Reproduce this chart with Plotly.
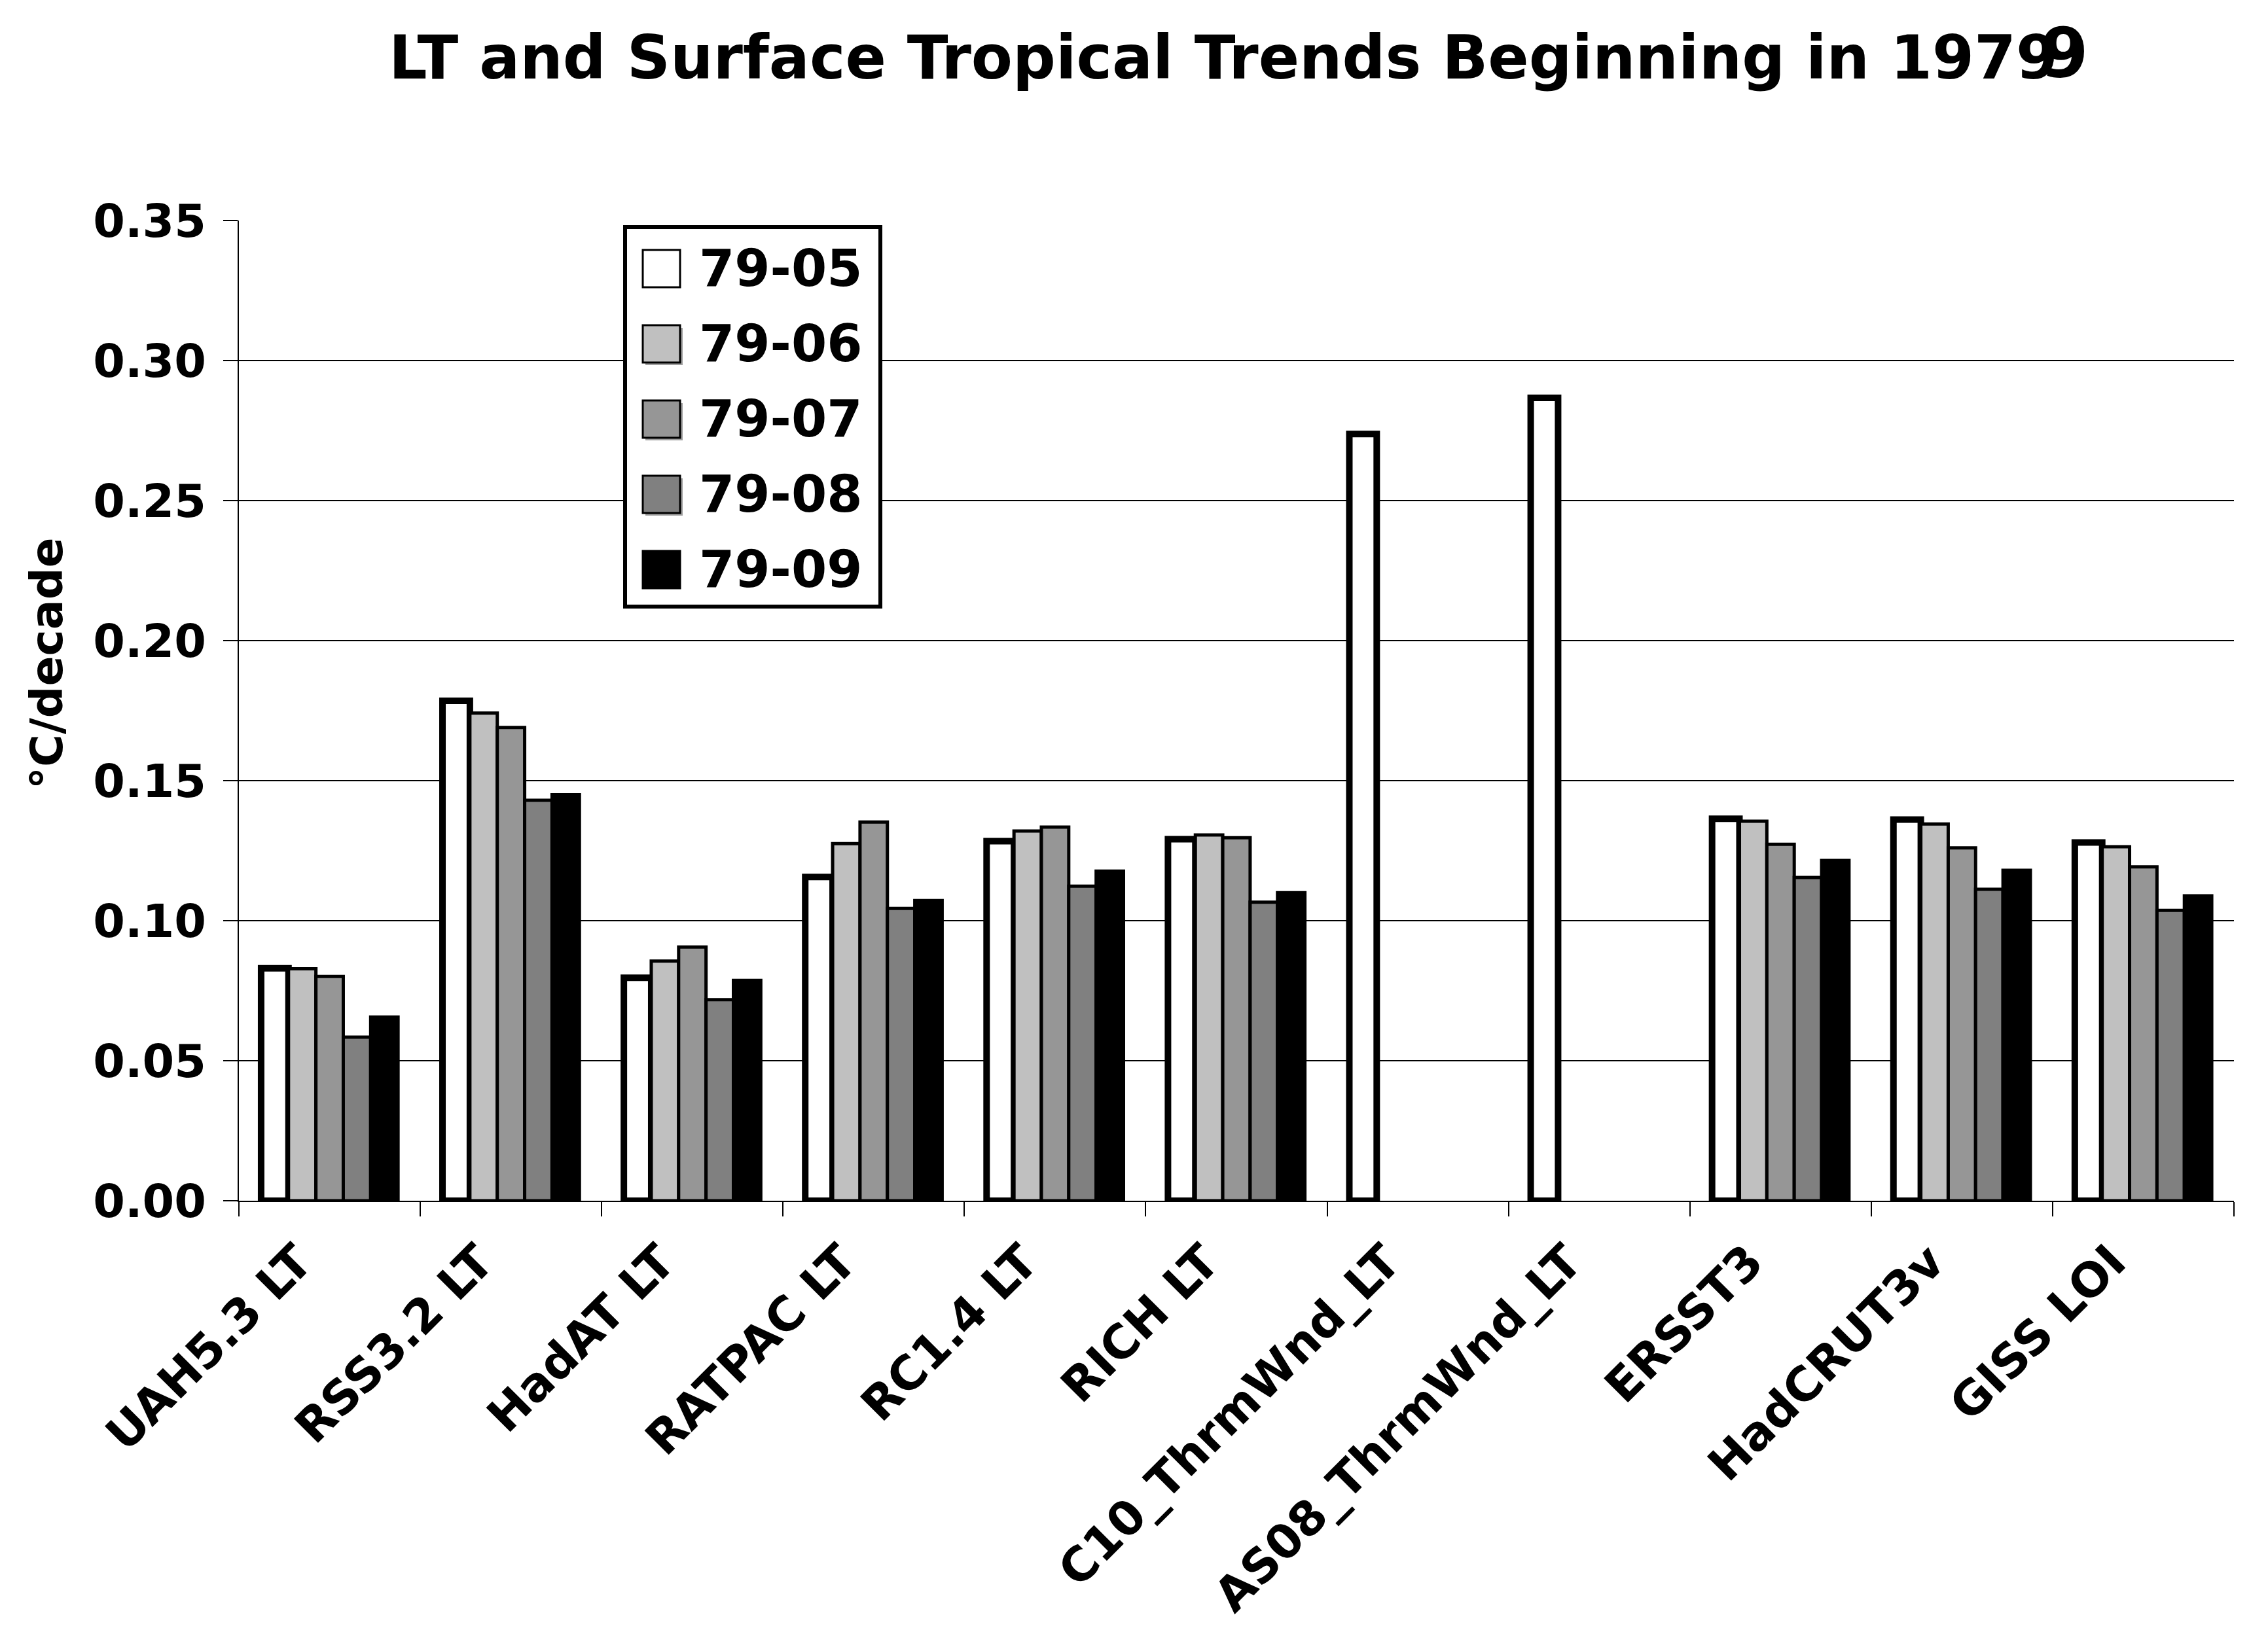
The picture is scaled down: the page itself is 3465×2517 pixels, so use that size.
import plotly.graph_objects as go

# tropical trends, deg C per decade
datasets = ['UAH5.3 LT', 'RSS3.2 LT', 'HadAT LT', 'RATPAC LT', 'RC1.4 LT', 'RICH LT',
            'C10_ThrmWnd_LT', 'AS08_ThrmWnd_LT', 'ERSST3', 'HadCRUT3v', 'GISS LOI']
periods = ['79-05', '79-06', '79-07', '79-08', '79-09']

t_79_05 = [0.083, 0.1785, 0.0796, 0.1156, 0.1284, 0.1291, 0.2738, 0.2867, 0.1364, 0.1361, 0.1279]
t_79_06 = [0.0828, 0.1741, 0.0856, 0.1275, 0.1320, 0.1306, None, None, 0.1355, 0.1345, 0.1264]
t_79_07 = [0.0801, 0.1690, 0.0906, 0.1352, 0.1334, 0.1296, None, None, 0.1273, 0.1260, 0.1192]
t_79_08 = [0.0584, 0.1430, 0.0718, 0.1044, 0.1123, 0.1066, None, None, 0.1154, 0.1112, 0.1037]
t_79_09 = [0.0656, 0.1450, 0.0787, 0.1072, 0.1177, 0.1100, None, None, 0.1215, 0.1180, 0.1089]
series = [t_79_05, t_79_06, t_79_07, t_79_08, t_79_09]

fills = ['#FFFFFF', '#C0C0C0', '#969696', '#808080', '#000000']
edge_w = [10, 5, 5, 5, 5]

W, H = 3465, 2517
L, R, T, B = 365, 52, 337, 682
BOLD = dict(family='DejaVu Sans', color='black', weight='bold')


def px(x, y):
    # pixel position -> paper coords
    return (x - L) / (W - L - R), (H - B - y) / (H - T - B)


fig = go.Figure()
for name, vals, col, lw in zip(periods, series, fills, edge_w):
    fig.add_trace(go.Bar(x=datasets, y=vals, name=name, showlegend=False,
                         marker=dict(color=col, line=dict(color='black', width=lw))))

shapes = []
annotations = []

# legend box drawn by hand so the swatches can be large
x0, y0 = px(955, 347)
x1, y1 = px(1345, 927)
shapes.append(dict(type='rect', xref='paper', yref='paper', x0=x0, y0=y0, x1=x1, y1=y1,
                   fillcolor='white', line=dict(color='black', width=6), layer='above'))
for i, (name, col) in enumerate(zip(periods, fills)):
    cy = 410 + i * 115
    if 0 < i < 4:
        sx0, sy0 = px(986, cy - 24)
        sx1, sy1 = px(1043, cy + 33)
        shapes.append(dict(type='rect', xref='paper', yref='paper', x0=sx0, y0=sy0, x1=sx1, y1=sy1,
                           fillcolor='#A0A0A0', line=dict(width=0), layer='above'))
    sx0, sy0 = px(982, cy - 28)
    sx1, sy1 = px(1039, cy + 29)
    shapes.append(dict(type='rect', xref='paper', yref='paper', x0=sx0, y0=sy0, x1=sx1, y1=sy1,
                       fillcolor=col, line=dict(color='black', width=3), layer='above'))
    tx, ty = px(1066, cy)
    annotations.append(dict(text=name, xref='paper', yref='paper', x=tx, y=ty,
                            xanchor='left', yanchor='middle', showarrow=False,
                            font=dict(BOLD, size=78)))

# title (with the stray oversized 9 of the original)
tx, ty = px(592, 88)
annotations.append(dict(text='LT and Surface Tropical Trends Beginning in 1979', xref='paper', yref='paper',
                        x=tx, y=ty, xanchor='left', yanchor='middle', showarrow=False,
                        font=dict(BOLD, size=92)))
tx, ty = px(3193, 82)
annotations.append(dict(text='9', xref='paper', yref='paper', x=tx, y=ty,
                        xanchor='right', yanchor='middle', showarrow=False,
                        font=dict(BOLD, size=106)))

# y axis title
tx, ty = px(71, 1014)
annotations.append(dict(text='°C/decade', xref='paper', yref='paper', x=tx, y=ty,
                        xanchor='center', yanchor='middle', textangle=-90, showarrow=False,
                        font=dict(BOLD, size=68)))

fig.update_layout(
    width=W, height=H, autosize=False,
    margin=dict(l=L, r=R, t=T, b=B, pad=0),
    paper_bgcolor='white', plot_bgcolor='white',
    barmode='group', bargap=0.245, bargroupgap=0,
    shapes=shapes, annotations=annotations,
    showlegend=False,
)
fig.update_xaxes(type='category', tickson='boundaries', ticks='outside', ticklen=22,
                 tickwidth=2, tickcolor='black', showline=True, linecolor='black', linewidth=2,
                 showgrid=False, tickangle=-45, ticklabelshift=-48, ticklabelstandoff=20,
                 tickfont=dict(BOLD, size=72))
fig.update_yaxes(range=[0, 0.35], dtick=0.05, tickformat='.2f', ticks='outside', ticklen=22,
                 tickwidth=2, tickcolor='black', showline=True, linecolor='black', linewidth=2,
                 showgrid=True, gridcolor='black', gridwidth=1.5, zeroline=False,
                 ticklabelstandoff=12, tickfont=dict(BOLD, size=70))

fig.write_html("out.html", config={'displayModeBar': False},
               post_script="document.body.style.margin='0';")
